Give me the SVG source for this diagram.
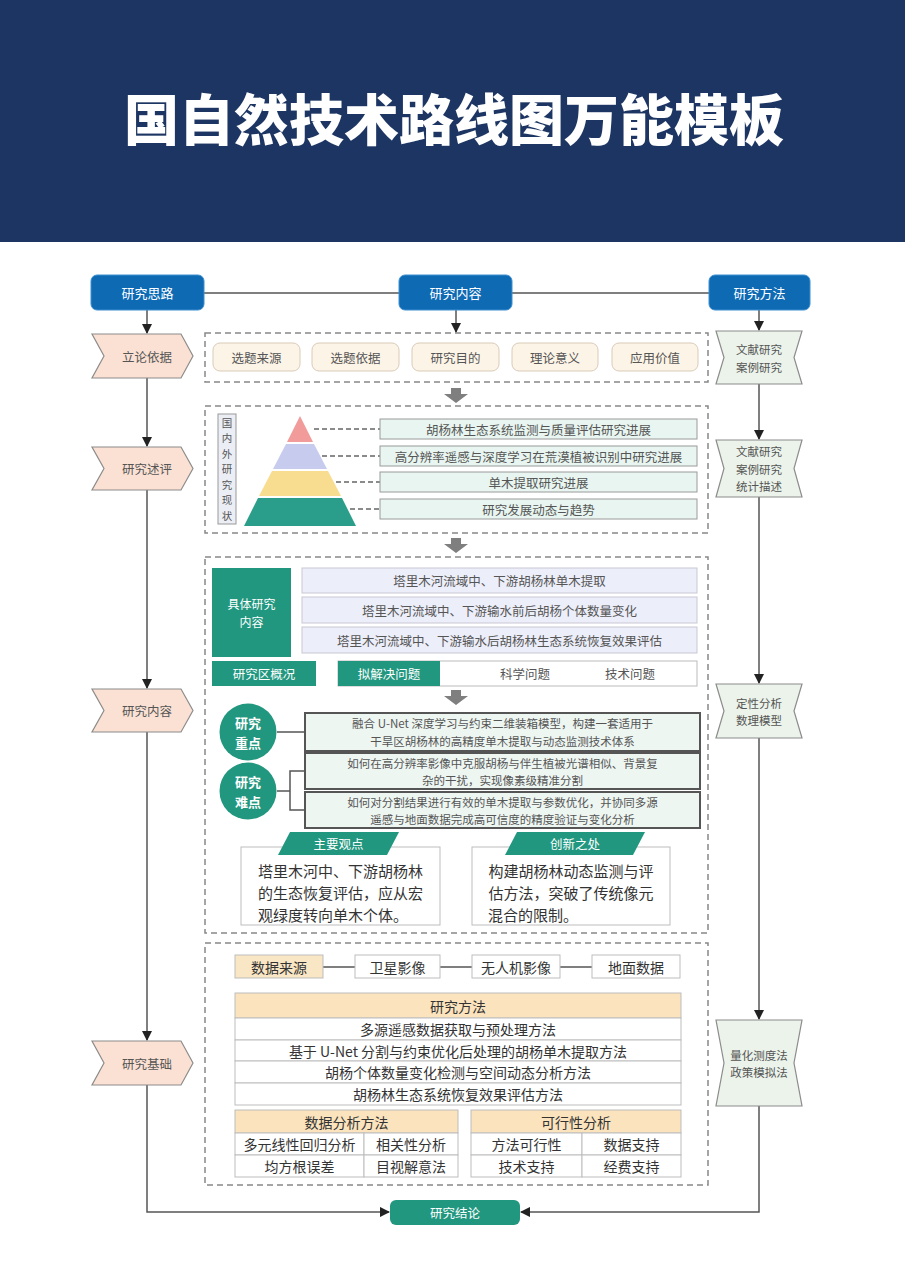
<svg xmlns="http://www.w3.org/2000/svg" width="905" height="1280" viewBox="0 0 905 1280">
<defs>
<style>
.t{font-family:"Noto Sans CJK SC","Noto Sans",sans-serif;text-anchor:middle;dominant-baseline:central}
.s{font-size:12.5px;fill:#555}
.r{font-size:11.5px;fill:#555}
.w{fill:#fff}
.d{font-size:14px;fill:#333}
.dash{fill:none;stroke:#888;stroke-width:1.5;stroke-dasharray:6 4}
.con{fill:none;stroke:#555;stroke-width:1.5}
.chev{fill:#fbe1d3;stroke:#8c8c8c;stroke-width:1.2}
.hg{fill:#ebf3ea;stroke:#8c8c8c;stroke-width:1.2}
.top{fill:#0d6ab3;stroke:#3f8fd0;stroke-width:1}
.teal{fill:#22977f}
.cream{fill:#fdf4e8;stroke:#d9cbb8;stroke-width:1}
.mint{fill:#e8f5f0;stroke:#9a9a9a;stroke-width:1}
.lav{fill:#eceef9;stroke:#c8c8d4;stroke-width:1}
.cell{fill:#fff;stroke:#bdbdbd;stroke-width:1}
.hdr{fill:#fbe3bd;stroke:#bdbdbd;stroke-width:1}
.blk{fill:#7f7f7f}
.kd{fill:#eef6f2;stroke:#555;stroke-width:2}
</style>
<marker id="ah" viewBox="0 0 10 10" refX="9" refY="5" markerWidth="7" markerHeight="7" orient="auto-start-reverse"><path d="M0,0 L10,5 L0,10 Z" fill="#222"/></marker>
</defs>

<rect x="0" y="0" width="905" height="1280" fill="#fff"/>
<g id="header">
<rect x="0" y="0" width="905" height="242" fill="#1c3562"/>
<text class="t" x="454" y="116" style="font-size:55px;font-weight:900;fill:#fff">国自然技术路线图万能模板</text>
</g>

<g id="connectors">
<line class="con" x1="204" y1="293" x2="399" y2="293"/>
<line class="con" x1="512" y1="293" x2="709" y2="293"/>
<line class="con" x1="147" y1="310" x2="147" y2="333" marker-end="url(#ah)"/>
<line class="con" x1="147" y1="378" x2="147" y2="446" marker-end="url(#ah)"/>
<line class="con" x1="147" y1="490" x2="147" y2="688" marker-end="url(#ah)"/>
<line class="con" x1="147" y1="732" x2="147" y2="1040" marker-end="url(#ah)"/>
<polyline class="con" points="147,1085 147,1212 389,1212" marker-end="url(#ah)"/>
<line class="con" x1="759" y1="310" x2="759" y2="330" marker-end="url(#ah)"/>
<line class="con" x1="759" y1="384" x2="759" y2="439" marker-end="url(#ah)"/>
<line class="con" x1="759" y1="497" x2="759" y2="683" marker-end="url(#ah)"/>
<line class="con" x1="759" y1="738" x2="759" y2="1019" marker-end="url(#ah)"/>
<polyline class="con" points="759,1106 759,1212 521,1212" marker-end="url(#ah)"/>
<line class="con" x1="456" y1="310" x2="456" y2="332" marker-end="url(#ah)"/>
<path class="blk" d="M451,388 H461 V394 H468 L456,403 L444,394 H451 Z"/>
<path class="blk" d="M451,538 H461 V544 H468 L456,553 L444,544 H451 Z"/>
<path class="blk" d="M451,690 H461 V696 H468 L456,705 L444,696 H451 Z"/>
<line x1="314" y1="429" x2="380" y2="429" stroke="#666" stroke-width="1.5" stroke-dasharray="5 3"/>
<line x1="322" y1="456" x2="380" y2="456" stroke="#666" stroke-width="1.5" stroke-dasharray="5 3"/>
<line x1="336" y1="482" x2="380" y2="482" stroke="#666" stroke-width="1.5" stroke-dasharray="5 3"/>
<line x1="350" y1="509" x2="380" y2="509" stroke="#666" stroke-width="1.5" stroke-dasharray="5 3"/>
<line class="con" x1="277" y1="732" x2="305" y2="732"/>
<polyline class="con" points="277,791 290,791"/>
<polyline class="con" points="305,771 290,771 290,810 305,810"/>
<line class="con" x1="323" y1="967" x2="355" y2="967"/>
<line class="con" x1="440" y1="967" x2="472" y2="967"/>
<line class="con" x1="560" y1="967" x2="592" y2="967"/>
</g>

<g id="n-silu"><rect class="top" x="91" y="275" width="113" height="35" rx="6"/><text class="t w" x="147.5" y="292.5" style="font-size:13px">研究思路</text></g>
<g id="n-neirong"><rect class="top" x="399" y="275" width="113" height="35" rx="6"/><text class="t w" x="455.5" y="292.5" style="font-size:13px">研究内容</text></g>
<g id="n-fangfa"><rect class="top" x="709" y="275" width="101" height="35" rx="6"/><text class="t w" x="759.5" y="292.5" style="font-size:13px">研究方法</text></g>

<g id="l-lilun"><polygon class="chev" points="92,334 181,334 193,356 181,378 92,378 104,356"/><text class="t s" x="147" y="356">立论依据</text></g>
<g id="l-shuping"><polygon class="chev" points="92,447 181,447 193,468.5 181,490 92,490 104,468.5"/><text class="t s" x="147" y="468.5">研究述评</text></g>
<g id="l-neirong"><polygon class="chev" points="92,689 181,689 193,710.5 181,732 92,732 104,710.5"/><text class="t s" x="147" y="710.5">研究内容</text></g>
<g id="l-jichu"><polygon class="chev" points="92,1041 181,1041 193,1063 181,1085 92,1085 104,1063"/><text class="t s" x="147" y="1063">研究基础</text></g>

<g id="r-1"><polygon class="hg" points="716,331 802,331 794,357.5 802,384 716,384 724,357.5"/><text class="t r" x="759" y="349">文献研究</text><text class="t r" x="759" y="366.5">案例研究</text></g>
<g id="r-2"><polygon class="hg" points="716,440 802,440 794,468.5 802,497 716,497 724,468.5"/><text class="t r" x="759" y="451">文献研究</text><text class="t r" x="759" y="468.5">案例研究</text><text class="t r" x="759" y="486">统计描述</text></g>
<g id="r-3"><polygon class="hg" points="716,684 802,684 794,711 802,738 716,738 724,711"/><text class="t r" x="759" y="702.5">定性分析</text><text class="t r" x="759" y="720">数理模型</text></g>
<g id="r-4"><polygon class="hg" points="716,1020 802,1020 794,1063 802,1106 716,1106 724,1063"/><text class="t r" x="759" y="1054.5">量化测度法</text><text class="t r" x="759" y="1072">政策模拟法</text></g>

<g id="jielun"><rect x="390" y="1200" width="130" height="25" rx="6" class="teal"/><text class="t w" x="455" y="1212.5" style="font-size:12.5px">研究结论</text></g>

<g id="box1">
<rect class="dash" x="205" y="333" width="503" height="49"/>
<rect class="cream" x="213" y="343" width="87" height="28" rx="7"/><text class="t s" x="256.5" y="357">选题来源</text>
<rect class="cream" x="312" y="343" width="87" height="28" rx="7"/><text class="t s" x="355.5" y="357">选题依据</text>
<rect class="cream" x="412" y="343" width="87" height="28" rx="7"/><text class="t s" x="455.5" y="357">研究目的</text>
<rect class="cream" x="512" y="343" width="86" height="28" rx="7"/><text class="t s" x="555" y="357">理论意义</text>
<rect class="cream" x="612" y="343" width="86" height="28" rx="7"/><text class="t s" x="655" y="357">应用价值</text>
</g>

<g id="box2">
<rect class="dash" x="205" y="406" width="503" height="127"/>
<rect x="218" y="414" width="18" height="110" fill="#eceef5" stroke="#999" stroke-width="1"/>
<g style="font-size:10.5px">
<text class="t" style="fill:#555" x="227" y="422">国</text><text class="t" style="fill:#555" x="227" y="437.5">内</text><text class="t" style="fill:#555" x="227" y="453">外</text><text class="t" style="fill:#555" x="227" y="468.5">研</text><text class="t" style="fill:#555" x="227" y="484">究</text><text class="t" style="fill:#555" x="227" y="499.5">现</text><text class="t" style="fill:#555" x="227" y="515">状</text>
</g>
<polygon points="300,416 313,442 287,442" fill="#f29b9b"/>
<polygon points="286,444 314,444 327,469 273,469" fill="#c7cbee"/>
<polygon points="272,471 328,471 341,496 259,496" fill="#f8dc8f"/>
<polygon points="258,498 342,498 356,526 244,526" fill="#2a9e8a"/>
<rect class="mint" x="380" y="419" width="317" height="20"/><text class="t s" x="538.5" y="429">胡杨林生态系统监测与质量评估研究进展</text>
<rect class="mint" x="380" y="446" width="317" height="20"/><text class="t s" x="538.5" y="456">高分辨率遥感与深度学习在荒漠植被识别中研究进展</text>
<rect class="mint" x="380" y="472" width="317" height="20"/><text class="t s" x="538.5" y="482">单木提取研究进展</text>
<rect class="mint" x="380" y="499" width="317" height="20"/><text class="t s" x="538.5" y="509">研究发展动态与趋势</text>
</g>

<g id="box3">
<rect class="dash" x="205" y="557" width="503" height="376"/>
<rect class="teal" x="212" y="568" width="79" height="89"/>
<text class="t w" x="251.5" y="603" style="font-size:12px">具体研究</text><text class="t w" x="251.5" y="621" style="font-size:12px">内容</text>
<rect class="lav" x="302" y="568" width="395" height="25"/><text class="t s" x="499.5" y="580.5">塔里木河流域中、下游胡杨林单木提取</text>
<rect class="lav" x="302" y="597" width="395" height="26"/><text class="t s" x="499.5" y="610">塔里木河流域中、下游输水前后胡杨个体数量变化</text>
<rect class="lav" x="302" y="627" width="395" height="26"/><text class="t s" x="499.5" y="640">塔里木河流域中、下游输水后胡杨林生态系统恢复效果评估</text>
<rect class="teal" x="212" y="661" width="104" height="25"/><text class="t w" x="264" y="673.5" style="font-size:12.5px">研究区概况</text>
<rect x="338" y="661" width="359" height="25" fill="#fff" stroke="#bbb" stroke-width="1"/>
<rect class="teal" x="338" y="661" width="102" height="25"/><text class="t w" x="389" y="673.5" style="font-size:12.5px">拟解决问题</text>
<text class="t s" x="525" y="673.5">科学问题</text><text class="t s" x="630" y="673.5">技术问题</text>

<circle class="teal" cx="248" cy="732" r="28.5"/>
<text class="t w" x="248" y="722.5" style="font-size:13px;font-weight:700">研究</text><text class="t w" x="248" y="742" style="font-size:13px;font-weight:700">重点</text>
<circle class="teal" cx="248" cy="791" r="28.5"/>
<text class="t w" x="248" y="781.5" style="font-size:13px;font-weight:700">研究</text><text class="t w" x="248" y="801" style="font-size:13px;font-weight:700">难点</text>
<rect class="kd" x="305" y="713" width="395" height="38"/>
<text class="t s" x="502.5" y="723" style="font-size:11.5px">融合 U-Net 深度学习与约束二维装箱模型，构建一套适用于</text>
<text class="t s" x="502.5" y="741" style="font-size:11.5px">干旱区胡杨林的高精度单木提取与动态监测技术体系</text>
<rect class="kd" x="305" y="753" width="395" height="36"/>
<text class="t s" x="502.5" y="762.5" style="font-size:11.5px">如何在高分辨率影像中克服胡杨与伴生植被光谱相似、背景复</text>
<text class="t s" x="502.5" y="779.5" style="font-size:11.5px">杂的干扰，实现像素级精准分割</text>
<rect class="kd" x="305" y="792" width="395" height="36"/>
<text class="t s" x="502.5" y="801.5" style="font-size:11.5px">如何对分割结果进行有效的单木提取与参数优化，并协同多源</text>
<text class="t s" x="502.5" y="818.5" style="font-size:11.5px">遥感与地面数据完成高可信度的精度验证与变化分析</text>

<rect x="241" y="847" width="199" height="78" fill="#fff" stroke="#bdbdbd" stroke-width="1"/>
<polygon class="teal" points="290,832 399,832 387,855 278,855"/>
<text class="t w" x="338.5" y="843.5" style="font-size:12.5px">主要观点</text>
<text class="t" x="340.5" y="870" style="font-size:15px;fill:#333">塔里木河中、下游胡杨林</text>
<text class="t" x="340.5" y="892" style="font-size:15px;fill:#333">的生态恢复评估，应从宏</text>
<text class="t" x="333" y="914" style="font-size:15px;fill:#333">观绿度转向单木个体。</text>
<rect x="472" y="847" width="198" height="78" fill="#fff" stroke="#bdbdbd" stroke-width="1"/>
<polygon class="teal" points="517,832 645,832 633,855 505,855"/>
<text class="t w" x="575" y="843.5" style="font-size:12.5px">创新之处</text>
<text class="t" x="571" y="870" style="font-size:15px;fill:#333">构建胡杨林动态监测与评</text>
<text class="t" x="571" y="892" style="font-size:15px;fill:#333">估方法，突破了传统像元</text>
<text class="t" x="533" y="914" style="font-size:15px;fill:#333">混合的限制。</text>
</g>

<g id="box4">
<rect class="dash" x="205" y="943" width="503" height="242"/>
<rect x="235" y="955" width="88" height="23" fill="#f8e6c4" stroke="#bdbdbd" stroke-width="1"/><text class="t d" x="279" y="966.5">数据来源</text>
<rect class="cell" x="355" y="955" width="85" height="23"/><text class="t d" x="397.5" y="966.5">卫星影像</text>
<rect class="cell" x="472" y="955" width="88" height="23"/><text class="t d" x="516" y="966.5">无人机影像</text>
<rect class="cell" x="592" y="955" width="88" height="23"/><text class="t d" x="636" y="966.5">地面数据</text>

<rect class="hdr" x="235" y="993" width="446" height="25"/><text class="t d" x="458" y="1005.5">研究方法</text>
<rect class="cell" x="235" y="1018" width="446" height="22"/><text class="t d" x="458" y="1029">多源遥感数据获取与预处理方法</text>
<rect class="cell" x="235" y="1040" width="446" height="21"/><text class="t d" x="458" y="1050.5">基于 U-Net 分割与约束优化后处理的胡杨单木提取方法</text>
<rect class="cell" x="235" y="1061" width="446" height="22"/><text class="t d" x="458" y="1072">胡杨个体数量变化检测与空间动态分析方法</text>
<rect class="cell" x="235" y="1083" width="446" height="22"/><text class="t d" x="458" y="1094">胡杨林生态系统恢复效果评估方法</text>

<rect class="hdr" x="235" y="1110" width="223" height="23"/><text class="t d" x="346.5" y="1121.5">数据分析方法</text>
<rect class="cell" x="235" y="1133" width="129" height="22"/><text class="t d" x="299.5" y="1144">多元线性回归分析</text>
<rect class="cell" x="364" y="1133" width="94" height="22"/><text class="t d" x="411" y="1144">相关性分析</text>
<rect class="cell" x="235" y="1155" width="129" height="22"/><text class="t d" x="299.5" y="1166">均方根误差</text>
<rect class="cell" x="364" y="1155" width="94" height="22"/><text class="t d" x="411" y="1166">目视解意法</text>

<rect class="hdr" x="471" y="1110" width="210" height="23"/><text class="t d" x="576" y="1121.5">可行性分析</text>
<rect class="cell" x="471" y="1133" width="111" height="22"/><text class="t d" x="526.5" y="1144">方法可行性</text>
<rect class="cell" x="582" y="1133" width="99" height="22"/><text class="t d" x="631.5" y="1144">数据支持</text>
<rect class="cell" x="471" y="1155" width="111" height="22"/><text class="t d" x="526.5" y="1166">技术支持</text>
<rect class="cell" x="582" y="1155" width="99" height="22"/><text class="t d" x="631.5" y="1166">经费支持</text>
</g>
</svg>
